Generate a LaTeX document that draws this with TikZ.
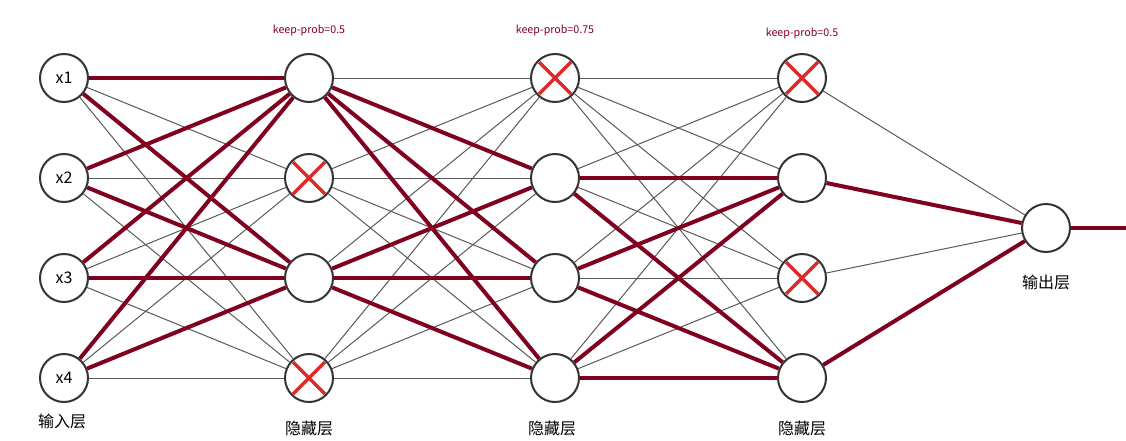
\documentclass[tikz,border=0pt]{standalone}
\usepackage{fontspec}
\setmainfont{Noto Sans CJK SC}
\usetikzlibrary{backgrounds}
\definecolor{wine}{HTML}{800020}
\definecolor{cross}{HTML}{E02828}
\tikzset{
  neuron/.style={circle,draw=black!80,line width=1.5pt,fill=white,minimum size=36pt,inner sep=0pt,font=\fontsize{12}{14}\selectfont},
  thin edge/.style={draw=black!65,line width=0.75pt},
  thick edge/.style={draw=wine,line width=3pt},
  drop/.style={draw=cross,line width=2.5pt},
  lab/.style={font=\fontsize{12}{14}\selectfont},
  kp/.style={text=wine,font=\fontsize{8}{10}\selectfont}
}
\begin{document}
\begin{tikzpicture}[x=0.75pt,y=-0.75pt]
  \useasboundingbox (0,0) rectangle (1126,440);
  % layers of neurons
  \foreach \k in {1,...,4} {
    \node[neuron] (i\k) at (64,{78+100*(\k-1)}) {x\k};
    \node[neuron] (a\k) at (309,{78+100*(\k-1)}) {};
    \node[neuron] (b\k) at (555,{78+100*(\k-1)}) {};
    \node[neuron] (c\k) at (802,{78+100*(\k-1)}) {};
  }
  \node[neuron] (o) at (1046,228) {};
  \coordinate (out) at (1126,228);
  \begin{scope}[on background layer]
    % all connections, thin
    \foreach \s in {1,...,4} \foreach \t in {1,...,4} {
      \path[thin edge] (i\s) -- (a\t);
      \path[thin edge] (a\s) -- (b\t);
      \path[thin edge] (b\s) -- (c\t);
    }
    \foreach \s in {1,...,4} \path[thin edge] (c\s) -- (o);
    % kept connections
    \foreach \s in {1,...,4} \foreach \t in {1,3} \path[thick edge] (i\s) -- (a\t);
    \foreach \s in {1,3} \foreach \t in {2,3,4} \path[thick edge] (a\s) -- (b\t);
    \foreach \s in {2,3,4} \foreach \t in {2,4} \path[thick edge] (b\s) -- (c\t);
    \foreach \s in {2,4} \path[thick edge] (c\s) -- (o);
    \path[thick edge] (o) -- (out);
  \end{scope}
  % dropped neurons
  \foreach \n in {a2,a4,b1,c1,c3} {
    \draw[drop] (\n.center) ++(-16,-16) -- ++(32,32);
    \draw[drop] (\n.center) ++(16,-16) -- ++(-32,32);
  }
  % labels
  \node[kp] (kp1) at (309,30) {keep-prob=0.5};
  \node[kp] (kp2) at (555,30) {keep-prob=0.75};
  \node[kp] (kp3) at (802,33) {keep-prob=0.5};
  \node[lab] (l0) at (62,421) {输入层};
  \node[lab] (l1) at (309,428) {隐藏层};
  \node[lab] (l2) at (552,428) {隐藏层};
  \node[lab] (l3) at (802,428) {隐藏层};
  \node[lab] (l4) at (1046,282) {输出层};
\end{tikzpicture}
\end{document}
